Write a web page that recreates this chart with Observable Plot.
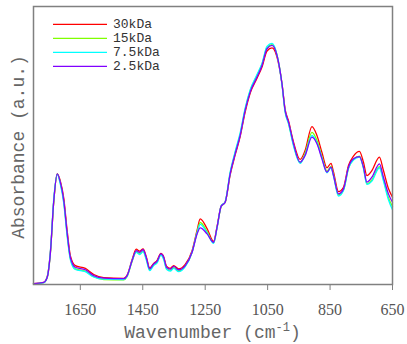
<!DOCTYPE html>
<html><head><meta charset="utf-8">
<script src="https://cdn.jsdelivr.net/npm/d3@7"></script>
<script src="https://cdn.jsdelivr.net/npm/@observablehq/plot@0.6"></script>
<style>body{margin:0;background:#fff}</style>
</head><body><div id="chart"></div>
<script>
const wavenumbers = [1800,1767,1756,1746,1735,1724,1714,1703,1692,1682,1666,1634,1607,1575,1511,1500,1484,1471,1460,1449,1439,1428,1415,1404,1392,1383,1374,1362,1351,1335,1314,1292,1276,1266,1244,1223,1212,1199,1186,1170,1154,1138,1122,1106,1084,1068,1052,1036,1020,1004,994,983,967,946,930,908,892,876,860,847,839,823,807,791,775,756,743,732,716,692,679,663,650];
const seriesNames = ["30kDa","15kDa","7.5kDa","2.5kDa"];
const seriesColors = ["#ff0000","#80ff00","#00ffff","#8000ff"];
const xTicks = [1650,1450,1250,1050,850,650];
const abs30 = [0.003,0.008,0.028,0.115,0.300,0.398,0.372,0.310,0.192,0.104,
0.068,0.058,0.036,0.025,0.022,0.034,0.090,0.127,0.120,0.128,
0.101,0.060,0.076,0.087,0.112,0.100,0.066,0.058,0.068,0.056,
0.072,0.122,0.195,0.236,0.201,0.155,0.208,0.282,0.297,0.394,
0.466,0.532,0.620,0.688,0.742,0.782,0.840,0.851,0.818,0.722,
0.630,0.588,0.512,0.450,0.482,0.568,0.536,0.475,0.420,0.436,
0.405,0.334,0.350,0.428,0.462,0.479,0.440,0.392,0.410,0.458,
0.410,0.345,0.314];
const abs15 = [0.002,0.007,0.025,0.110,0.300,0.398,0.366,0.298,0.178,0.093,
0.056,0.048,0.028,0.018,0.017,0.029,0.084,0.118,0.110,0.120,
0.094,0.053,0.071,0.081,0.107,0.094,0.058,0.051,0.061,0.049,
0.066,0.116,0.188,0.223,0.190,0.150,0.205,0.280,0.296,0.400,
0.474,0.540,0.630,0.697,0.752,0.793,0.852,0.863,0.826,0.722,
0.624,0.580,0.502,0.438,0.472,0.547,0.518,0.460,0.408,0.425,
0.395,0.322,0.340,0.418,0.450,0.462,0.420,0.362,0.376,0.424,
0.378,0.312,0.281];
const abs7_5 = [0.002,0.007,0.027,0.118,0.310,0.396,0.360,0.292,0.172,0.090,
0.054,0.046,0.027,0.019,0.018,0.030,0.086,0.116,0.108,0.118,
0.090,0.050,0.068,0.078,0.106,0.090,0.055,0.048,0.058,0.046,
0.064,0.116,0.186,0.216,0.186,0.148,0.204,0.282,0.298,0.405,
0.478,0.545,0.634,0.700,0.755,0.795,0.856,0.867,0.826,0.718,
0.620,0.578,0.498,0.436,0.466,0.536,0.510,0.455,0.402,0.420,
0.390,0.318,0.338,0.418,0.448,0.458,0.418,0.360,0.372,0.420,
0.372,0.305,0.269];
const abs2_5 = [0.003,0.008,0.026,0.112,0.302,0.398,0.368,0.302,0.183,0.098,
0.062,0.053,0.032,0.023,0.021,0.032,0.086,0.122,0.116,0.125,
0.098,0.056,0.074,0.084,0.110,0.098,0.062,0.055,0.065,0.053,
0.068,0.116,0.182,0.204,0.182,0.152,0.206,0.281,0.296,0.398,
0.470,0.536,0.626,0.692,0.746,0.788,0.848,0.860,0.824,0.722,
0.626,0.584,0.506,0.440,0.464,0.530,0.506,0.452,0.404,0.422,
0.392,0.326,0.344,0.422,0.452,0.460,0.422,0.368,0.386,0.434,
0.386,0.326,0.296];
const allValues = [abs30, abs15, abs7_5, abs2_5];

const data = seriesNames.flatMap((s, i) =>
  wavenumbers.map((w, j) => ({series: s, wn: w, a: allValues[i][j]})));

const mono = "'Liberation Mono', 'Courier New', monospace";
const svg = Plot.plot({
  width: 407, height: 344,
  marginLeft: 33, marginRight: 15, marginTop: 6, marginBottom: 60,
  style: {fontFamily: mono, background: "#fff"},
  x: {domain: [1800, 650]},
  y: {domain: [0, 1], axis: null},
  color: {domain: seriesNames, range: seriesColors},
  marks: [
    Plot.line(data, {x: "wn", y: "a", z: "series", stroke: "series", strokeWidth: 1.3, curve: "monotone-x"}),
    Plot.frame({stroke: "#808080", strokeWidth: 1.5}),
    Plot.axisX({ticks: xTicks, tickSize: 6, tickPadding: 13, stroke: "#808080", color: "#555",
      fontFamily: "'Liberation Serif', 'Times New Roman', serif", fontSize: 16, label: null, tickFormat: d => String(d)})
  ]
});

const g = d3.select(svg);
// axis titles
const xt = g.append("text").attr("x", 212.5).attr("y", 338).attr("text-anchor", "middle")
  .attr("fill", "#666").style("font-family", mono).style("font-size", "18px");
xt.append("tspan").text("Wavenumber (cm");
xt.append("tspan").attr("dy", -7).style("font-size", "12px").text("-1");
xt.append("tspan").attr("dy", 7).text(")");
g.append("text").attr("transform", "translate(24,147) rotate(-90)").attr("text-anchor", "middle")
  .attr("fill", "#666").style("font-family", mono).style("font-size", "18px").text("Absorbance (a.u.)");
// legend
const leg = g.append("g").attr("text-anchor", "start");
seriesNames.forEach((s, i) => {
  const y = 24.3 + i * 14;
  leg.append("line").attr("x1", 53).attr("x2", 107).attr("y1", y).attr("y2", y)
    .attr("stroke", seriesColors[i]).attr("stroke-width", 1.3);
  leg.append("text").attr("x", 113).attr("y", y + 4).attr("fill", "#333").attr("text-anchor", "start")
    .style("font-family", mono).style("font-size", "13px").text(s);
});
document.getElementById("chart").appendChild(svg);
</script>
</body></html>
